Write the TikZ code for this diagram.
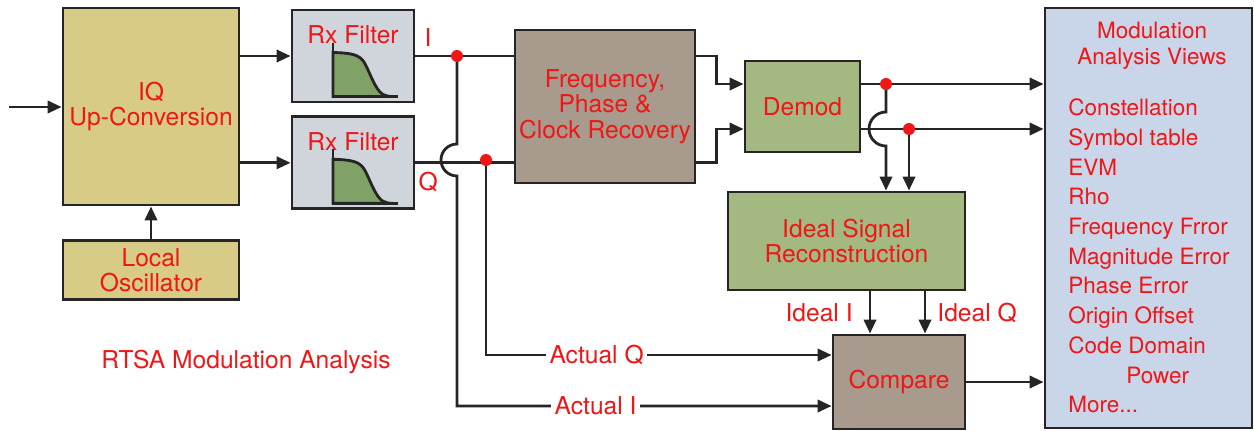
\documentclass[tikz,border=0pt]{standalone}
\usepackage{fontspec}
\setmainfont{TeX Gyre Heros}
\usepackage{xcolor}
\usepackage{tikz}
\usetikzlibrary{arrows.meta,positioning,calc}
\definecolor{wiregray}{RGB}{38,36,36}
\definecolor{labelred}{RGB}{240,22,22}
\definecolor{tanfill}{RGB}{216,203,133}
\definecolor{rxfill}{RGB}{208,213,219}
\definecolor{brownfill}{RGB}{168,154,140}
\definecolor{greenfill}{RGB}{164,184,130}
\definecolor{curvefill}{RGB}{128,162,102}
\definecolor{viewfill}{RGB}{201,213,232}
\newcommand{\blkfont}{\fontsize{14}{14.6}\selectfont}
\newcommand{\viewfont}{\fontsize{12.8}{14.7}\selectfont}
\newcommand{\listfont}{\fontsize{12.8}{16.9}\selectfont}
\tikzset{
    blk/.style={rectangle, draw=wiregray, line width=1.6pt, align=center, font=\blkfont, text=labelred, inner sep=1pt},
    tanblk/.style={blk, fill=tanfill},
    rxblk/.style={blk, fill=rxfill, minimum width=2.44cm, minimum height=1.84cm},
    brownblk/.style={blk, fill=brownfill},
    greenblk/.style={blk, fill=greenfill},
    viewblk/.style={blk, fill=viewfill},
    tag/.style={font=\blkfont, text=labelred, inner sep=2pt},
    wire/.style={draw=wiregray, line width=1.6pt},
    flow/.style={wire, -{Triangle[length=8pt, width=7pt]}},
    junc/.style={circle, fill=labelred, inner sep=0pt, minimum size=0.24cm},
}

\begin{document}
\begin{tikzpicture}[x=0.02cm, y=-0.02cm]
    \useasboundingbox (0,0) rectangle (1254,430);

    % blocks
    \node[tanblk, minimum width=3.52cm, minimum height=3.94cm] (iq) at (151,106.5) {IQ\\Up-Conversion};
    \node[tanblk, minimum width=3.52cm, minimum height=1.18cm, below=0.66cm of iq] (lo) {Local\\Oscillator};
    \node[rxblk] (rxi) at (353,56) {};
    \node[rxblk, below=0.24cm of rxi] (rxq) {};
    \node[brownblk, minimum width=3.6cm, minimum height=3.06cm] (freq) at (605,106.5) {Frequency,\\Phase \&\\Clock Recovery};
    \node[greenblk, minimum width=2.3cm, minimum height=1.82cm] (demod) at (802.5,106.5) {Demod};
    \node[greenblk, minimum width=4.74cm, minimum height=1.96cm] (ideal) at (846.5,241) {Ideal Signal\\Reconstruction};
    \node[brownblk, minimum width=2.64cm, minimum height=1.88cm] (cmp) at (899,382) {Compare};
    \node[viewblk, minimum width=4.14cm, minimum height=8.4cm] (views) at (1148.5,218) {};

    % filter sketch in both Rx boxes
    \foreach \f in {rxi,rxq}{
        \node[tag] (\f lbl) at ($(\f.center)+(0,-21)$) {Rx Filter};
        \begin{scope}[shift={(\f.center)}]
            \filldraw[wire, fill=curvefill] (-20,40.5) -- (-20,-3.5) .. controls (0,-3) and (6,-1) .. (11,6)
                .. controls (16,14) and (22,34) .. (30,38.5) .. controls (33,40) and (36,40.5) .. (40,40.5) -- cycle;
            \draw[wire] (-20,-13.5) -- (-20,40.5) -- (45,40.5);
        \end{scope}
    }

    % text
    \node[tag, align=center, font=\viewfont] (viewtitle) at (1152,46) {Modulation\\Analysis Views};
    \node[tag, align=left, font=\listfont, anchor=west, inner sep=0pt] (viewlist) at (1068,256) {Constellation\\Symbol table\\EVM\\Rho\\Frequency Frror\\Magnitude Error\\Phase Error\\Origin Offset\\Code Domain\\\hspace*{1.16cm}Power\\More...};
    \node[tag] (caption) at (246,362) {RTSA Modulation Analysis};

    \coordinate (rfin) at (9,107);
    \coordinate (ji) at (457,56);
    \coordinate (jq) at (486,160);
    \coordinate (dtop) at (886,84);
    \coordinate (dbot) at (909,129);
    \coordinate (actq) at (486,355);
    \coordinate (acti) at (457,406);
    \coordinate (idi) at (870,290);
    \coordinate (idq) at (925,290);

    \draw[flow] (rfin) -- (iq.west |- rfin);
    \draw[flow] (lo.north) -- (iq.south);
    \draw[flow] (iq.east |- rxi.west) -- (rxi.west);
    \draw[flow] (iq.east |- rxq.west) -- (rxq.west);
    \draw[wire] (rxi.east) -- node[tag, pos=0.13, above=2.5pt] (ilbl) {I} (freq.west |- rxi.east);
    \draw[wire] (rxq.east) -- node[tag, pos=0.13, below=2.5pt] (qlbl) {Q} (freq.west |- rxq.east);
    \draw[flow] (ji) -- ++(0,88) arc[start angle=90, end angle=270, radius=0.32cm] -- (ji |- acti)
        -- node[tag, fill=white, pos=0.37] (actilbl) {Actual I} (cmp.west |- acti);
    \draw[flow] (jq) -- (actq) -- node[tag, fill=white, pos=0.32] (actqlbl) {Actual Q} (cmp.west |- actq);
    \draw[flow] (freq.east |- rxi.east) -- ++(20,0) |- (demod.west |- dtop);
    \draw[flow] (freq.east |- rxq.east) -- ++(20,0) |- (demod.west |- dbot);
    \draw[flow] (demod.east |- dtop) -- (views.west |- dtop);
    \draw[flow] (demod.east |- dbot) -- (views.west |- dbot);
    \draw[flow] (dtop) -- ++(0,28) arc[start angle=90, end angle=270, radius=0.34cm] -- (dtop |- ideal.north);
    \draw[flow] (dbot) -- (dbot |- ideal.north);
    \draw[flow] (idi |- ideal.south) -- node[tag, left=0.25cm] (idilbl) {Ideal I} (idi |- cmp.north);
    \draw[flow] (idq |- ideal.south) -- node[tag, right=0.15cm] (idqlbl) {Ideal Q} (idq |- cmp.north);
    \draw[flow] (cmp.east) -- (views.west |- cmp.east);

    % junction dots
    \node[junc] (jidot) at (ji) {};
    \node[junc] (jqdot) at (jq) {};
    \node[junc] (jtdot) at (dtop) {};
    \node[junc] (jbdot) at (dbot) {};
\end{tikzpicture}
\end{document}
